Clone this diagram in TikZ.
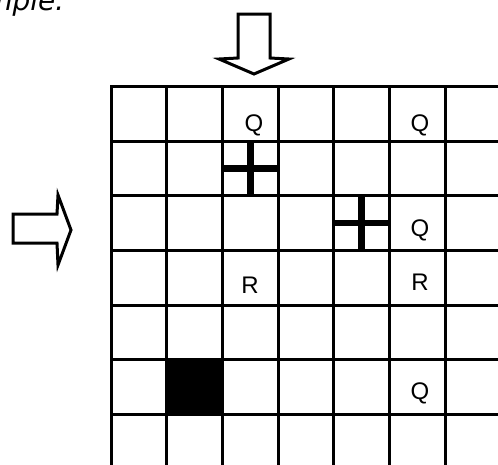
\documentclass[tikz,border=0pt]{standalone}
\usepackage{fontspec}
\setmainfont{Liberation Sans}
\newfontfamily\titlefont{DejaVu Sans}
\begin{document}
\begin{tikzpicture}[x=1pt,y=-1pt,
  gridline/.style={line width=3pt,black,line cap=rect},
  crossbar/.style={line width=6.5pt,black},
  hollowarrow/.style={line width=3pt,black,fill=white,miter limit=10,line join=miter},
  cellmark/.style={font=\fontsize{24}{24}\selectfont,inner sep=0pt,anchor=base}]
\useasboundingbox (0,0) rectangle (498,464);
\clip (0,0) rectangle (498,464);
\fill[white] (0,0) rectangle (498,464);
\node[anchor=base east, inner sep=0pt, font=\titlefont\itshape\fontsize{28}{28}\selectfont] (title) at (65,10) {Example:};
% black cell
\fill[black] (166.7,359.7) rectangle (222.4,414.3);
% grid
\foreach \i in {0,...,7} \draw[gridline] ({111+55.7*\i},86.7) -- ({111+55.7*\i},480);
\foreach \j in {0,...,7} \draw[gridline] (111,{86.7+54.6*\j}) -- (510,{86.7+54.6*\j});
% crosses
\draw[crossbar] (250.3,141.3) -- (250.3,195.9);
\draw[crossbar] (222.4,168.6) -- (278.1,168.6);
\draw[crossbar] (361.6,195.9) -- (361.6,250.5);
\draw[crossbar] (333.8,223.2) -- (389.5,223.2);
% hollow arrows
\draw[hollowarrow] (238,14) -- (270,14) -- (270,58) -- (289,59) -- (254,74) -- (219,59) -- (238,58) -- cycle;
\draw[hollowarrow] (13,214) -- (57,214) -- (58,195) -- (71,230) -- (58,265) -- (57,243) -- (13,243) -- cycle;
% labels
\node[cellmark] (q1) at (254,131) {Q};
\node[cellmark] (q2) at (420,131) {Q};
\node[cellmark] (q3) at (420,236.7) {Q};
\node[cellmark] (r1) at (250,293) {R};
\node[cellmark] (r2) at (420,290) {R};
\node[cellmark] (q4) at (420,399) {Q};
\end{tikzpicture}
\end{document}
